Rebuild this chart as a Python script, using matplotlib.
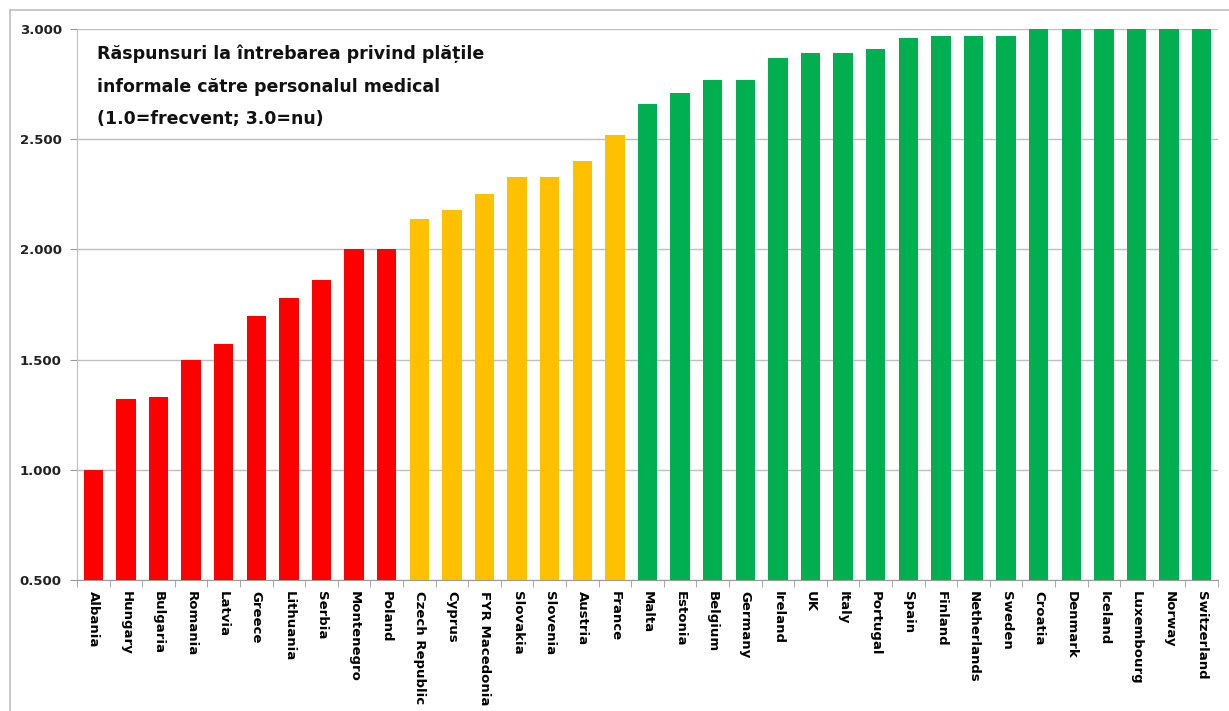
import matplotlib
matplotlib.use("Agg")
import matplotlib.pyplot as plt
from matplotlib.lines import Line2D
import numpy as np

countries = ["Albania", "Hungary", "Bulgaria", "Romania", "Latvia", "Greece", "Lithuania",
             "Serbia", "Montenegro", "Poland", "Czech Republic", "Cyprus", "FYR Macedonia",
             "Slovakia", "Slovenia", "Austria", "France", "Malta", "Estonia", "Belgium",
             "Germany", "Ireland", "UK", "Italy", "Portugal", "Spain", "Finland",
             "Netherlands", "Sweden", "Croatia", "Denmark", "Iceland", "Luxembourg",
             "Norway", "Switzerland"]
values = [1.00, 1.32, 1.33, 1.50, 1.57, 1.70, 1.78, 1.86, 2.00, 2.00,
          2.14, 2.18, 2.25, 2.33, 2.33, 2.40, 2.52,
          2.66, 2.71, 2.77, 2.77, 2.87, 2.89, 2.89, 2.91, 2.96, 2.97,
          2.97, 2.97, 3.00, 3.00, 3.00, 3.00, 3.00, 3.00]
groups = ["red"] * 10 + ["yellow"] * 7 + ["green"] * 18
group_colors = {"red": "#FF0000", "yellow": "#FFC000", "green": "#00B050"}
yticks = [0.5, 1.0, 1.5, 2.0, 2.5, 3.0]
title = "Răspunsuri la întrebarea privind plățile\ninformale către personalul medical\n(1.0=frecvent; 3.0=nu)"

fig = plt.figure(figsize=(12.29, 7.11), dpi=100)
ax = fig.add_axes([77/1229, 1-580/711, (1218-77)/1229, (580-29)/711])

x = np.arange(len(countries))
ax.bar(x, [v - 0.5 for v in values], bottom=0.5, width=0.6,
       color=[group_colors[g] for g in groups], zorder=3)

ax.set_ylim(0.5, 3.0)
ax.set_xlim(-0.5, len(countries) - 0.5)
ax.set_yticks(yticks)
ax.set_yticklabels([f"{v:.3f}" for v in yticks], fontsize=9.5, fontweight="bold", color="#222222")
ax.yaxis.grid(True, color="#BFBFBF", linewidth=1.0, zorder=0)
ax.set_xticks(x)
ax.set_xticklabels(countries, rotation=270, fontsize=9.5, fontweight="bold", va="top", ha="center")
ax.set_xticks(np.arange(-0.5, len(countries), 1), minor=True)
ax.tick_params(axis="x", which="major", length=0, pad=8)
ax.tick_params(axis="x", which="minor", length=5, color="#999999")
ax.tick_params(axis="y", length=5, color="#999999", pad=6)
for s in ["top", "right"]:
    ax.spines[s].set_visible(False)
ax.spines["left"].set_color("#BFBFBF")
ax.spines["bottom"].set_color("#999999")

ax.text(0.0175, 0.972, title, transform=ax.transAxes, fontsize=12.5, fontweight="semibold",
        va="top", ha="left", linespacing=2.05, color="#111111", zorder=5)

# outer frame
fig.add_artist(Line2D([10/1229, 10/1229], [0, 1-10/711], color="#BFBFBF", linewidth=1.2))
fig.add_artist(Line2D([10/1229, 1], [1-10/711, 1-10/711], color="#BFBFBF", linewidth=1.2))

fig.savefig("out.png", dpi=100)
